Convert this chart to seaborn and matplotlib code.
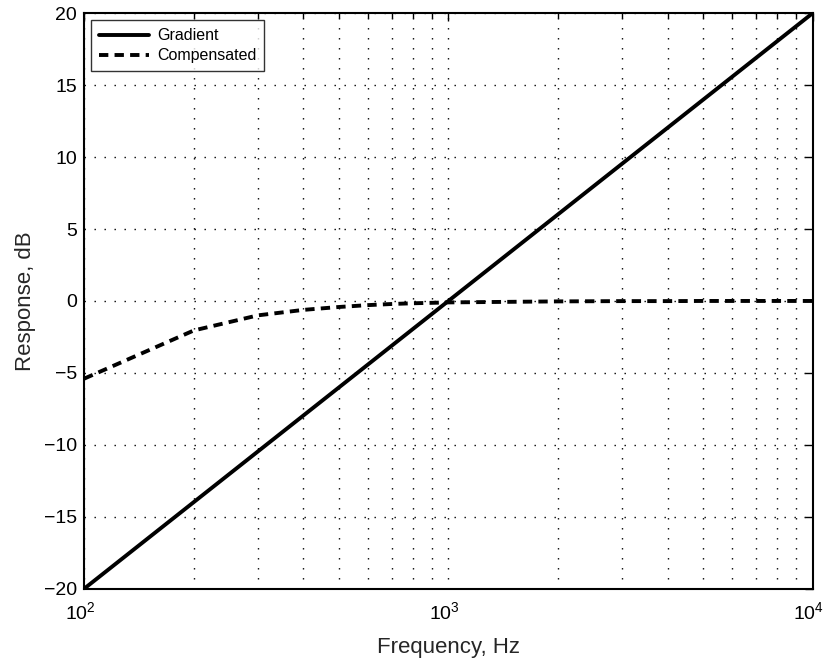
import numpy as np
import pandas as pd
import seaborn as sns
import matplotlib
matplotlib.use("Agg")
import matplotlib.pyplot as plt
import matplotlib.transforms as mtransforms
from matplotlib.ticker import LogLocator, NullFormatter, MultipleLocator

# Data
grad_freq = [100, 1000, 10000]
grad_db = [-20.0, 0.0, 20.0]

comp_freq = [100, 200, 300, 400, 500, 600, 700, 800, 900, 1000,
             2000, 3000, 4000, 5000, 6000, 7000, 8000, 9000, 10000]
comp_db = [-5.4, -2.05, -1.0, -0.62, -0.42, -0.29, -0.21, -0.16, -0.13, -0.1,
           -0.03, -0.01, -0.01, 0.0, 0.0, 0.0, 0.0, 0.0, 0.0]

series_names = ["Gradient", "Compensated"]

df = pd.concat([
    pd.DataFrame({"Frequency": grad_freq, "Response": grad_db, "Series": series_names[0]}),
    pd.DataFrame({"Frequency": comp_freq, "Response": comp_db, "Series": series_names[1]}),
])

sns.set_style("white")
plt.rcParams['font.family'] = ['Liberation Sans', 'DejaVu Sans']
plt.rcParams['mathtext.fontset'] = 'custom'
plt.rcParams['mathtext.rm'] = 'Liberation Sans'
plt.rcParams['mathtext.it'] = 'Liberation Sans'

fig = plt.figure(figsize=(8.25, 6.6), dpi=100)
ax = fig.add_axes([0.102, 0.108, 0.883, 0.872])

sns.lineplot(data=df, x="Frequency", y="Response", hue="Series", style="Series",
             palette=["black", "black"], dashes=[(None, None), (2.4, 1.6)],
             linewidth=2.8, ax=ax, legend=True, sort=False)

ax.set_xscale("log")
ax.set_xlim(100, 10000)
ax.set_ylim(-20, 20)
ax.yaxis.set_major_locator(MultipleLocator(5))
ax.xaxis.set_major_locator(LogLocator(base=10))
ax.xaxis.set_minor_locator(LogLocator(base=10, subs=np.arange(2, 10)))
ax.xaxis.set_minor_formatter(NullFormatter())

grid_kw = dict(color="black", linewidth=1.0, linestyle=(0, (1, 6.2)))
ax.grid(True, which="major", axis="both", **grid_kw)
ax.grid(True, which="minor", axis="x", **grid_kw)

for s in ax.spines.values():
    s.set_visible(True)
    s.set_color("black")
    s.set_linewidth(1.5)

ax.tick_params(which="both", direction="in", top=True, right=True,
               labelsize=14, colors="black", width=1.0)
ax.tick_params(which="major", length=6)
ax.tick_params(which="minor", length=3.5)
ax.tick_params(axis="x", pad=9)
ax.tick_params(axis="y", pad=5)

# shift x tick labels slightly left so the base "10" sits centred under the tick
offset = mtransforms.ScaledTranslation(-4 / 100, 0, fig.dpi_scale_trans)
for lbl in ax.get_xticklabels():
    lbl.set_transform(lbl.get_transform() + offset)

ax.set_xlabel("Frequency, Hz", fontsize=16, labelpad=10)
ax.set_ylabel("Response, dB", fontsize=16, labelpad=6)

leg = ax.legend(loc="upper left", fontsize=11.5, frameon=True, fancybox=False,
                edgecolor="black", handlelength=3.1, borderpad=0.5,
                labelspacing=0.3, handletextpad=0.5, borderaxespad=0.45)
leg.get_frame().set_linewidth(1.0)
for t in leg.get_texts():
    t.set_color("black")

fig.savefig("out.png", dpi=100)
